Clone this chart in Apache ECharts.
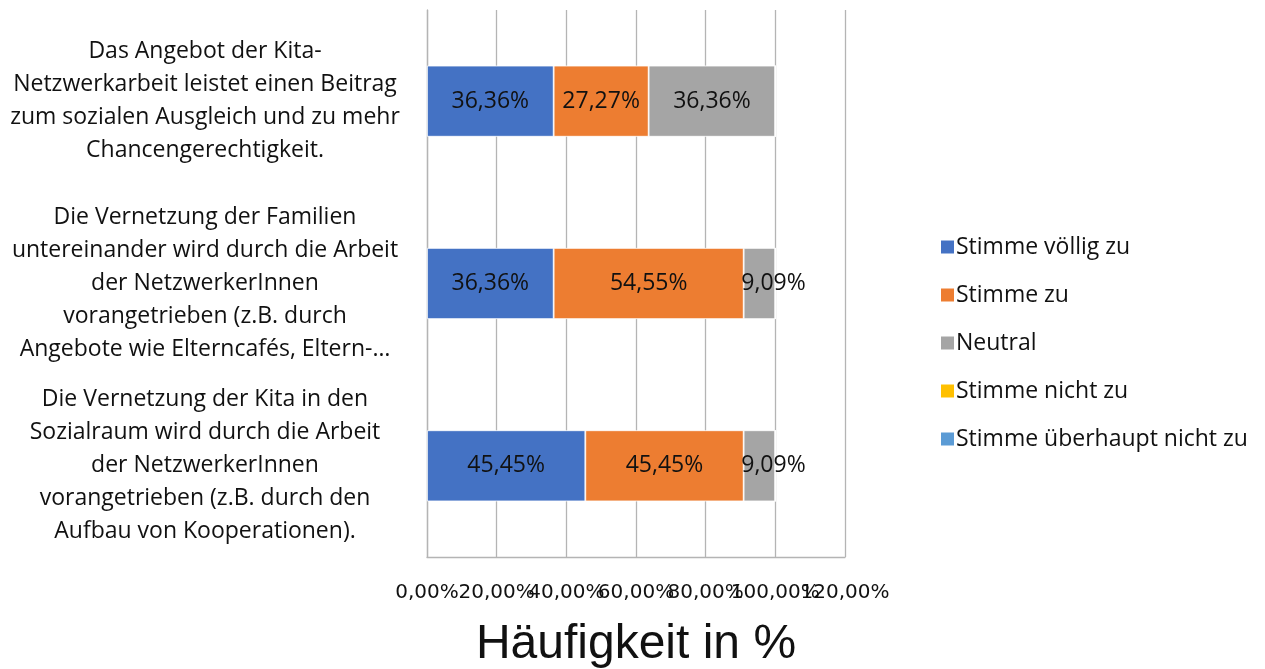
<!DOCTYPE html>
<html>
<head>
<meta charset="utf-8">
<script src="https://cdn.jsdelivr.net/npm/echarts@6/dist/echarts.min.js"></script>
<style>
  html, body { margin: 0; padding: 0; background: #fff; }
  #chart { width: 1265px; height: 669px; }
</style>
</head>
<body>
<div id="chart"></div>
<script>
// Statements, top to bottom
const categories = [
  'Das Angebot der Kita-\nNetzwerkarbeit leistet einen Beitrag\nzum sozialen Ausgleich und zu mehr\nChancengerechtigkeit.',
  'Die Vernetzung der Familien\nuntereinander wird durch die Arbeit\nder NetzwerkerInnen\nvorangetrieben (z.B. durch\nAngebote wie Elterncafés, Eltern-…',
  'Die Vernetzung der Kita in den\nSozialraum wird durch die Arbeit\nder NetzwerkerInnen\nvorangetrieben (z.B. durch den\nAufbau von Kooperationen).'
];

// Answer shares in percent, one value per statement
const seriesNames = ['Stimme völlig zu', 'Stimme zu', 'Neutral', 'Stimme nicht zu', 'Stimme überhaupt nicht zu'];
const stimmeVoelligZu = [36.36, 36.36, 45.45];
const stimmeZu = [27.27, 54.55, 45.45];
const neutral = [36.36, 9.09, 9.09];
const stimmeNichtZu = [0, 0, 0];
const stimmeUeberhauptNichtZu = [0, 0, 0];

const seriesValues = [stimmeVoelligZu, stimmeZu, neutral, stimmeNichtZu, stimmeUeberhauptNichtZu];
const seriesColors = ['#4472C4', '#ED7D31', '#A5A5A5', '#FFC000', '#5B9BD5'];

// Axis ticks
const axisMin = 0;
const axisMax = 120;
const axisStep = 20;

const fmt = v => v.toFixed(2).replace('.', ',') + '%';
const textFont = 'Open Sans';
const gridColor = '#b4b4b4';

// The tick labels are wide enough to run into each other; they are split over
// two stacked value axes (even / odd ticks) so that every label stays visible.
const tickLabel = (keepEven) => ({
  hideOverlap: false,
  showMinLabel: true,
  showMaxLabel: true,
  margin: 26,
  fontFamily: 'DejaVu Sans',
  fontSize: 20,
  color: '#111',
  formatter: v => {
    const idx = Math.round((v - axisMin) / axisStep);
    return (idx % 2 === 0) === keepEven ? fmt(v) : '';
  }
});

const chart = echarts.init(document.getElementById('chart'));
chart.setOption({
  animation: false,
  grid: { left: 427, right: 420, top: 10, bottom: 112, containLabel: false, outerBoundsMode: 'none' },
  legend: {
    orient: 'vertical',
    left: 934,
    top: 230,
    itemWidth: 15,
    itemHeight: 15,
    itemGap: 24,
    icon: 'rect',
    data: seriesNames,
    textStyle: { fontFamily: textFont, fontSize: 23, lineHeight: 24, color: '#111', padding: [0, 0, 0, -4] }
  },
  xAxis: [
    {
      type: 'value',
      min: axisMin,
      max: axisMax,
      interval: axisStep,
      name: 'Häufigkeit in %',
      nameLocation: 'middle',
      nameGap: 64,
      nameTextStyle: { fontFamily: 'Liberation Sans', fontSize: 48, color: '#111' },
      axisLine: { show: true, lineStyle: { color: gridColor, width: 1.3 } },
      axisTick: { show: false },
      splitLine: { show: true, lineStyle: { color: gridColor, width: 1.3 } },
      axisLabel: tickLabel(true)
    },
    {
      type: 'value',
      position: 'bottom',
      min: axisMin,
      max: axisMax,
      interval: axisStep,
      axisLine: { show: false },
      axisTick: { show: false },
      splitLine: { show: false },
      axisLabel: tickLabel(false)
    }
  ],
  yAxis: {
    type: 'category',
    inverse: true,
    data: categories,
    axisLine: { show: true, lineStyle: { color: gridColor, width: 1.3 } },
    axisTick: { show: false },
    axisLabel: {
      interval: 0,
      align: 'center',
      margin: 222,
      padding: [13, 0, 0, 0],
      fontFamily: textFont,
      fontSize: 23,
      lineHeight: 33,
      color: '#111'
    }
  },
  series: seriesNames.map((name, i) => ({
    name: name,
    type: 'bar',
    stack: 'total',
    xAxisIndex: 0,
    barCategoryGap: '61%',
    data: seriesValues[i].map(v => ({
      value: v,
      // narrow segments: label starts at the segment and spills past the bar
      label: v > 0 && v < 15 ? { offset: [14, 0] } : undefined
    })),
    itemStyle: { color: seriesColors[i], borderColor: '#ffffff', borderWidth: 0.8 },
    label: {
      show: true,
      position: 'inside',
      fontFamily: textFont,
      fontSize: 23,
      color: '#111',
      formatter: p => (p.value > 0 ? fmt(p.value) : '')
    }
  }))
});
</script>
</body>
</html>
